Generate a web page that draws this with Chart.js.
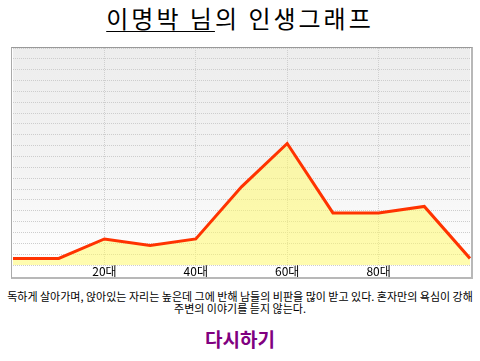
<!DOCTYPE html>
<html>
<head>
<meta charset="utf-8">
<script src="https://cdn.jsdelivr.net/npm/chart.js@4/dist/chart.umd.min.js"></script>
<style>
  html, body { margin: 0; padding: 0; background: #ffffff; }
  body { width: 480px; height: 361px; position: relative; overflow: hidden; font-family: "Noto Sans CJK KR", "Noto Sans", sans-serif; }
  #title { position: absolute; left: 0; top: 2px; width: 480px; text-align: center; font-size: 24px; letter-spacing: 3px; color: #000; line-height: 32px; }
  #title u { text-decoration-thickness: 1px; text-underline-offset: 3px; }
  #box { position: absolute; left: 11px; top: 47px; width: 459px; height: 229px; border-top: 1px solid #999; border-left: 1px solid #aaa; border-right: 2px solid #b8b8b8; border-bottom: 2px solid #b8b8b8; }
  #box canvas { display: block; }
  #desc { position: absolute; left: 0; top: 290px; width: 480px; text-align: center; font-size: 11px; line-height: 12px; color: #000; white-space: nowrap; }
  #again { position: absolute; left: 0; top: 326px; width: 480px; text-align: center; font-size: 19px; font-weight: bold; color: #800080; line-height: 26px; }
</style>
</head>
<body>
<div id="title"><u>이명박 님</u>의 인생그래프</div>
<div id="box"><canvas id="c" width="459" height="229"></canvas></div>
<div id="desc">독하게 살아가며, 앉아있는 자리는 높은데 그에 반해 남들의 비판을 많이 받고 있다. 혼자만의 욕심이 강해<br>주변의 이야기를 듣지 않는다.</div>
<div id="again">다시하기</div>
<script>
const ageLabels = ['', '', '20대', '', '40대', '', '60대', '', '80대', '', ''];
const lifeValues = [3, 3, 12, 9, 12, 36, 56, 24, 24, 27, 3];
const yMin = 0;
const yMax = 100;
const yStep = 5;

const bgPlugin = {
  id: 'bgGradient',
  beforeDraw(chart) {
    const { ctx, chartArea: a } = chart;
    const g = ctx.createLinearGradient(0, a.top, 0, a.bottom);
    g.addColorStop(0, '#ededed');
    g.addColorStop(0.55, '#f3f3f3');
    g.addColorStop(1, '#ffffff');
    ctx.save();
    ctx.fillStyle = g;
    ctx.fillRect(a.left, a.top, a.right - a.left, a.bottom - a.top);
    ctx.restore();
  }
};

new Chart(document.getElementById('c'), {
  type: 'line',
  data: {
    labels: ageLabels,
    datasets: [{
      data: lifeValues,
      borderColor: '#ff3300',
      borderWidth: 3,
      backgroundColor: 'rgba(255, 250, 110, 0.55)',
      fill: 'origin',
      tension: 0,
      pointRadius: 0,
      pointHoverRadius: 0
    }]
  },
  options: {
    responsive: false,
    animation: false,
    events: [],
    layout: { padding: { left: 1, right: 1, top: 0, bottom: 0 } },
    plugins: { legend: { display: false }, tooltip: { enabled: false } },
    scales: {
      x: {
        offset: false,
        border: { display: false, dash: [1, 1] },
        grid: {
          drawTicks: false,
          color: (ctx) => (ageLabels[ctx.index] ? '#cfcfcf' : 'rgba(0,0,0,0)'),
          lineWidth: 1
        },
        ticks: {
          autoSkip: false,
          maxRotation: 0,
          padding: 0,
          color: '#000',
          font: { family: '"Noto Sans CJK KR", sans-serif', size: 12, lineHeight: 1 }
        }
      },
      y: {
        min: yMin,
        max: yMax,
        border: { display: false, dash: [1, 1] },
        grid: { drawTicks: false, color: '#cdcdcd', lineWidth: 1 },
        ticks: { display: false, stepSize: yStep }
      }
    }
  },
  plugins: [bgPlugin]
});
</script>
</body>
</html>
